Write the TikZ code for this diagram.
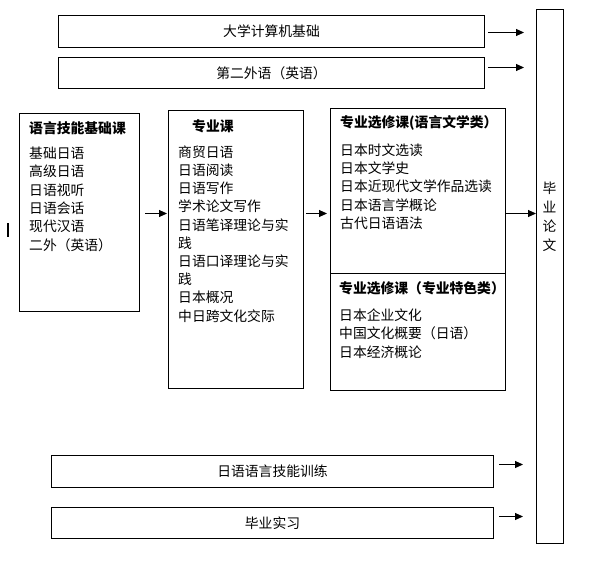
\documentclass[tikz,border=0pt]{standalone}
\usepackage{fontspec}
\setmainfont{Noto Sans CJK SC}
\usetikzlibrary{arrows.meta}
\begin{document}
\begin{tikzpicture}[x=1pt,y=-1pt,
  box/.style={draw, line width=1pt, inner sep=0pt, anchor=north west},
  txt/.style={inner sep=0pt, font=\fontsize{13.8}{18}\selectfont},
  ttl/.style={inner sep=0pt, anchor=west, font=\fontsize{13.8}{18}\selectfont\bfseries},
  item/.style={inner sep=0pt, anchor=west, font=\fontsize{13.8}{18}\selectfont},
  arr/.style={line width=1pt, -{Triangle[length=8pt,width=7pt]}}]
\useasboundingbox[fill=white] (0,0) rectangle (615,567);

% top and bottom boxes
\node[box, txt, minimum width=426pt, minimum height=32pt] (t1) at (58,15) {大学计算机基础};
\node[box, txt, minimum width=426pt, minimum height=31pt] (t2) at (58,57) {第二外语（英语）};
\node[box, txt, minimum width=442pt, minimum height=32pt] (b1) at (51,455) {日语语言技能训练};
\node[box, txt, minimum width=442pt, minimum height=31pt] (b2) at (51,507) {毕业实习};

% tall box
\node[box, minimum width=27pt, minimum height=534pt] (tall) at (536,9) {};
\node[inner sep=0pt, align=center, font=\fontsize{13.8}{19}\selectfont] (thesis) at (549.5,216.5) {毕\\业\\论\\文};

% left box
\node[box, minimum width=120pt, minimum height=198pt] (lb) at (19,113) {};
\node[ttl] (lbt) at (29,128) {语言技能基础课};
\foreach \t [count=\i] in {基础日语,高级日语,日语视听,日语会话,现代汉语,二外（英语）}
  \node[item] (l\i) at (29,{153+18.4*(\i-1)}) {\t};

% middle box
\node[box, minimum width=135pt, minimum height=278pt] (mb) at (168,110) {};
\node[ttl] (mbt) at (192,126) {专业课};
\foreach \t [count=\i] in {商贸日语,日语阅读,日语写作,学术论文写作,日语笔译理论与实,践,日语口译理论与实,践,日本概况,中日跨文化交际}
  \node[item] (m\i) at (178,{152+18.22*(\i-1)}) {\t};

% right boxes
\node[box, minimum width=175pt, minimum height=165pt] (rb) at (330,108) {};
\node[box, minimum width=175pt, minimum height=117pt] (rc) at (330,273) {};
\node[ttl] (rbt) at (340,123) {专业选修课(语言文学类）};
\foreach \t [count=\i] in {日本时文选读,日本文学史,日本近现代文学作品选读,日本语言学概论,古代日语语法}
  \node[item] (r\i) at (340,{150+18.25*(\i-1)}) {\t};
\node[ttl] (rct) at (339,288) {专业选修课（专业特色类）};
\foreach \t [count=\i] in {日本企业文化,中国文化概要（日语）,日本经济概论}
  \node[item] (s\i) at (339,{315+18.5*(\i-1)}) {\t};

% small mark
\draw[line width=1.8pt] (8,223) -- (8,237);

% arrows
\draw[arr, shorten <=5pt, shorten >=1pt] ([yshift=-1pt]lb.east) -- ([yshift=-1pt]mb.west |- lb.east);
\draw[arr, shorten <=2pt, shorten >=3pt] ([yshift=-1pt]mb.east |- lb.east) -- ([yshift=-1pt]rb.west |- lb.east);
\draw[arr, shorten >=0pt] ([yshift=-1pt]rb.east |- lb.east) -- ([yshift=-1pt]tall.west |- lb.east);
\draw[arr, shorten <=3pt, shorten >=12pt] ([yshift=-1pt]t1.east) -- ([yshift=-1pt]t1.east -| tall.west);
\draw[arr, shorten <=3pt, shorten >=12pt] ([yshift=5.5pt]t2.east) -- ([yshift=5.5pt]t2.east -| tall.west);
\draw[arr, shorten <=5pt, shorten >=13pt] ([yshift=7pt]b1.east) -- ([yshift=7pt]b1.east -| tall.west);
\draw[arr, shorten <=5pt, shorten >=13pt] ([yshift=6.5pt]b2.east) -- ([yshift=6.5pt]b2.east -| tall.west);
\end{tikzpicture}
\end{document}
